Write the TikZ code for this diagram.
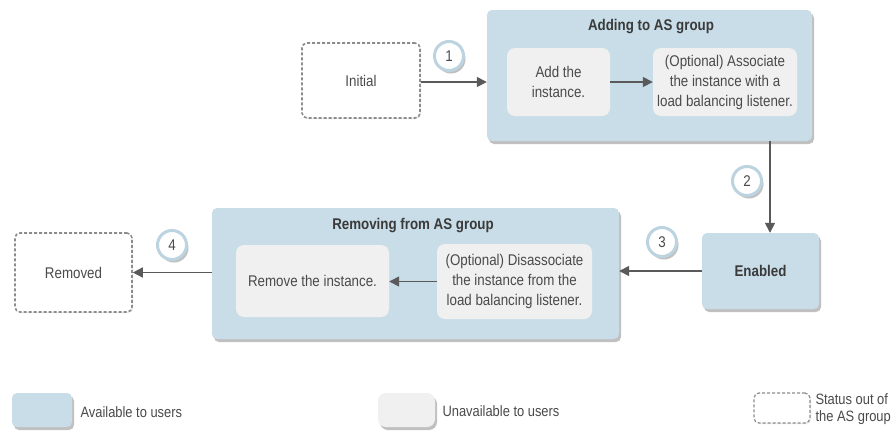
\documentclass[tikz,border=0pt]{standalone}
\usepackage{fontspec}
\setmainfont[FakeStretch=0.86]{Liberation Sans}
\usetikzlibrary{arrows.meta,positioning,shadows,calc}
\definecolor{availblue}{HTML}{C8DDE8}
\definecolor{unavailgrey}{HTML}{F0F0F0}
\definecolor{textgrey}{HTML}{4A4A4A}
\definecolor{titlegrey}{HTML}{3A3A3A}
\definecolor{linegrey}{HTML}{5A5A5A}
\definecolor{dashgrey}{HTML}{8C8C8C}
\definecolor{ringblue}{HTML}{BCD3E0}
\tikzset{
    box shadow/.style={drop shadow={shadow xshift=2pt,shadow yshift=-3pt,opacity=.35,fill=black!70}},
    soft shadow/.style={drop shadow={shadow xshift=1pt,shadow yshift=-1pt,opacity=.15,fill=black!60}},
    avail box/.style={fill=availblue,rounded corners=5pt,box shadow,inner sep=0pt},
    unavail box/.style={fill=unavailgrey,rounded corners=8pt,align=center,inner sep=0pt},
    out box/.style={draw=dashgrey,line width=1.6pt,dash pattern=on 3pt off 2pt,rounded corners=5pt,fill=white,inner sep=0pt,soft shadow},
    num/.style={circle,draw=ringblue,line width=3pt,fill=white,minimum size=29pt,inner sep=0pt,box shadow},
    arr/.style={-{Triangle[length=10pt,width=10pt]},line width=1.5pt,draw=linegrey},
    title/.style={text=titlegrey,font=\fontsize{15.5}{20}\selectfont\bfseries},
    key text/.style={anchor=west,font=\fontsize{15}{17}\selectfont},
}
\tikzstyle{every node}=[font=\fontsize{15.5}{20}\selectfont,text=textgrey]

\begin{document}
\begin{tikzpicture}[x=1pt,y=-1pt]
    \useasboundingbox[fill=white] (0,0) rectangle (896,431);

    % groups
    \node[avail box,minimum width=325,minimum height=131] (addgrp) at (649.5,75.5) {};
    \node[title] (addtitle) at (651,27) {Adding to AS group};
    \node[avail box,minimum width=407,minimum height=131] (remgrp) at (415.5,273.5) {};
    \node[title] (remtitle) at (413,226) {Removing from AS group};

    % states
    \node[out box,minimum width=118,minimum height=75] (init) at (361,80.5) {Initial};
    \node[unavail box,minimum width=103,minimum height=68] (addinst) at (558.5,82) {Add the\\instance.};
    \node[unavail box,minimum width=144,minimum height=68] (assoc) at (725,82)
        {(Optional) Associate\\the instance with a\\load balancing listener.};
    \node[avail box,minimum width=117,minimum height=76,title] (enabled) at (760.5,271) {Enabled};
    \node[unavail box,minimum width=155,minimum height=75] (disassoc) at (514.5,281.5)
        {(Optional) Disassociate\\the instance from the\\load balancing listener.};
    \node[unavail box,minimum width=153,minimum height=72] (reminst) at (312.5,281) {Remove the instance.};
    \node[out box,minimum width=117,minimum height=79] (removed) at (73.5,272.5) {Removed};

    % transitions
    \coordinate (down) at (770,0);
    \draw[arr] (init.east |- 0,82) -- (addgrp.west |- 0,82);
    \draw[arr] (addinst.east) -- (assoc.west);
    \draw[arr] (addgrp.south -| down) -- (enabled.north -| down);
    \draw[arr] (enabled.west) -- (remgrp.east |- enabled.west);
    \draw[arr] (disassoc.west) -- (reminst.east |- disassoc.west);
    \draw[arr] (remgrp.west |- removed.east) -- (removed.east);

    \node[num] (n1) at (449,56) {1};
    \node[num] (n2) at (747,181) {2};
    \node[num] (n3) at (662,242) {3};
    \node[num] (n4) at (172,245) {4};

    % legend
    \node[avail box,minimum width=60,minimum height=34] (kavail) at (42,410) {};
    \node[key text] (tavail) at (77,412) {Available to users};
    \node[unavail box,box shadow,minimum width=57,minimum height=34] (kunavail) at (406.5,410) {};
    \node[key text] (tunavail) at (439,411) {Unavailable to users};
    \node[out box,line width=1.2pt,minimum width=56,minimum height=30] (kout) at (782,408) {};
    \node[key text,align=left,font=\fontsize{15}{16.5}\selectfont] (tout) at (812,409) {Status out of\\the AS group};
\end{tikzpicture}
\end{document}
